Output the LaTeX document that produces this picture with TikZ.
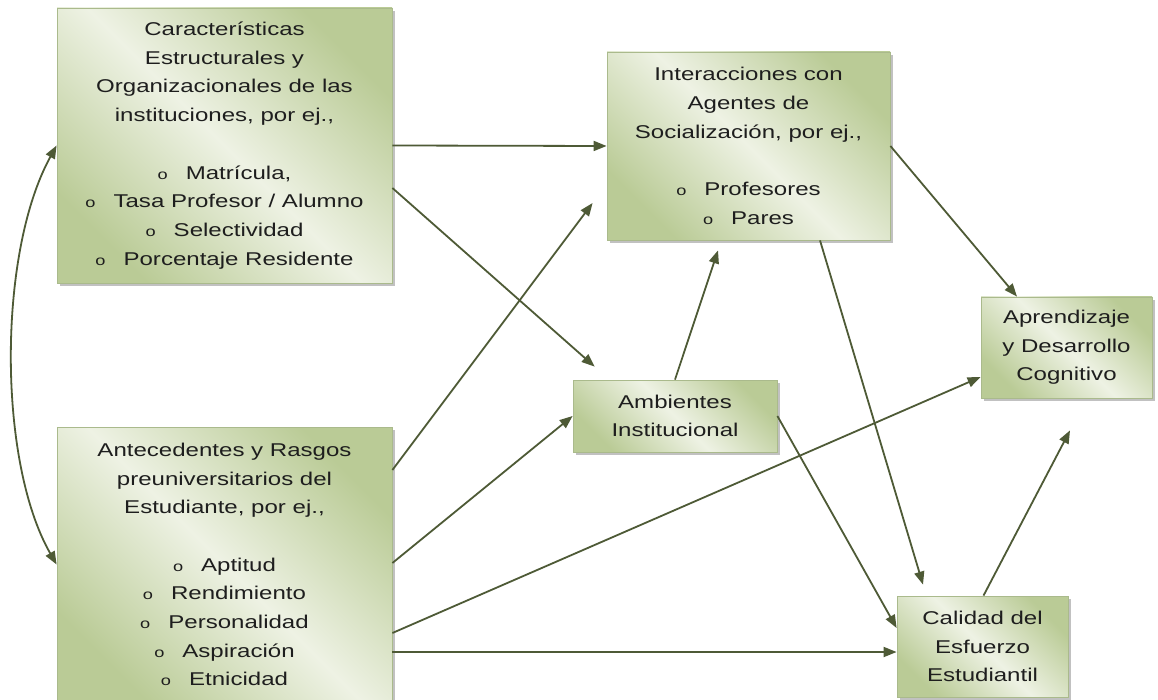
\documentclass[tikz,border=0pt]{standalone}
\usepackage{fontspec}
\setmainfont{Liberation Sans}[FakeStretch=1.3]
\usetikzlibrary{arrows.meta, shadows}
\definecolor{verdeosc}{RGB}{186,203,150}
\definecolor{verdecla}{RGB}{238,242,228}
\definecolor{borde}{RGB}{170,186,140}
\definecolor{flecha}{RGB}{78,90,54}
\definecolor{texto}{RGB}{30,30,30}
\newcommand{\vineta}[1]{{\fontsize{14}{14}\selectfont o}\hspace{18pt}#1}

\begin{document}
\begin{tikzpicture}[x=1pt, y=-1pt, >={Triangle[length=13pt, width=10pt]},
    caja/.style={draw=borde, line width=0.8pt, left color=verdeosc, right color=verdeosc,
        middle color=verdecla, shading angle=135,
        drop shadow={shadow xshift=3pt, shadow yshift=-3pt, fill=black!40, opacity=0.6},
        align=center, font=\fontsize{18.5}{28.7}\selectfont, text=texto, inner sep=0pt},
    flechas/.style={->, draw=flecha, line width=1.8pt}]
            \useasboundingbox (0,0) rectangle (1158,700);
            \clip (0,0) rectangle (1158,700);
            \fill [white] (0,0) rectangle (1158,700);
            \node [caja, minimum width=335pt, minimum height=275pt] (Carac) at (224.5, 145.5) {Características\\Estructurales y\\Organizacionales de las\\instituciones, por ej.,\\[28.7pt]\vineta{Matrícula,}\\\vineta{Tasa Profesor / Alumno}\\\vineta{Selectividad}\\\vineta{Porcentaje Residente}};
            \node [caja, minimum width=335pt, minimum height=275pt] (Antec) at (224.5, 564.5) {Antecedentes y Rasgos\\preuniversitarios del\\Estudiante, por ej.,\\[28.7pt]\vineta{Aptitud}\\\vineta{Rendimiento}\\\vineta{Personalidad}\\\vineta{Aspiración}\\\vineta{Etnicidad}};
            \node [caja, minimum width=283pt, minimum height=188pt] (Inter) at (748.5, 146) {Interacciones con\\Agentes de\\Socialización, por ej.,\\[28.7pt]\vineta{Profesores}\\\vineta{Pares}};
            \node [caja, minimum width=204pt, minimum height=72pt] (Amb) at (675, 416) {Ambientes\\Institucional};
            \node [caja, minimum width=171pt, minimum height=101pt] (Aprend) at (1066.5, 347.5) {Aprendizaje\\y Desarrollo\\Cognitivo};
            \node [caja, minimum width=171pt, minimum height=101pt] (Calidad) at (982.5, 646.5) {Calidad del\\Esfuerzo\\Estudiantil};
            \draw [flechas] (Carac.east) -- (Inter.west);
            \draw [flechas] ([yshift=-42.5pt]Carac.east) -- ([xshift=22pt, yshift=13pt]Amb.north west);
            \draw [flechas] ([yshift=94.5pt]Antec.east) -- ([xshift=-14pt, yshift=-57pt]Inter.west);
            \draw [flechas] ([yshift=1.5pt]Antec.east) -- (Amb.west);
            \draw [flechas] ([yshift=-68.5pt]Antec.east) -- ([yshift=-29.5pt]Aprend.west);
            \draw [flechas] ([yshift=-87.5pt]Antec.east) -- ([yshift=-5.5pt]Calidad.west);
            \draw [flechas] (Amb.north) -- ([xshift=-30.5pt, yshift=-10pt]Inter.south);
            \draw [flechas] ([xshift=71.5pt]Inter.south) -- ([xshift=-59.5pt, yshift=11pt]Calidad.north);
            \draw [flechas] (Amb.east) -- ([yshift=18.5pt]Calidad.west);
            \draw [flechas] (Inter.east) -- ([xshift=-49.5pt]Aprend.north);
            \draw [flechas] ([xshift=1pt]Calidad.north) -- ([xshift=3.5pt, yshift=-32pt]Aprend.south);
            \draw [flechas, <->] (Carac.west) .. controls +(-59,107) and +(-59,-103) .. (Antec.west);
        \end{tikzpicture}
\end{document}
